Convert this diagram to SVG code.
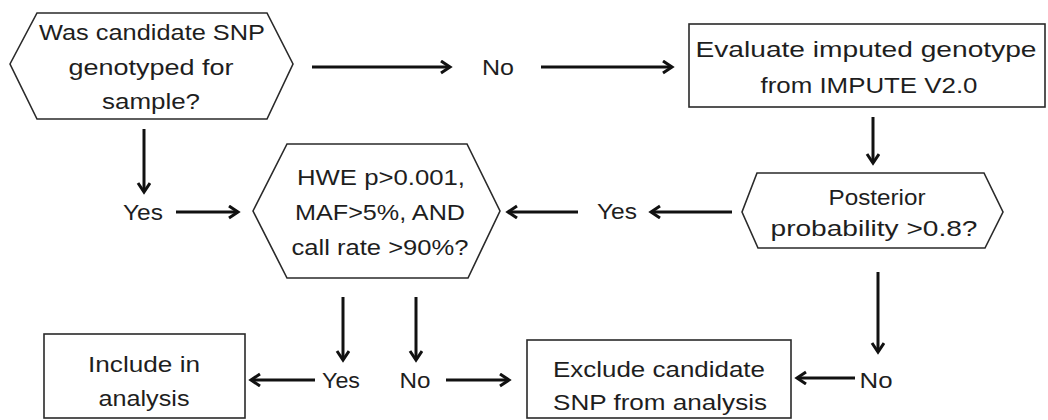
<svg xmlns="http://www.w3.org/2000/svg" width="1048" height="420" viewBox="0 0 1048 420">
  <style>
    .shape { fill: #ffffff; stroke: #2a2a2a; stroke-width: 1.6; }
    .t { font-family: "Liberation Sans", Arial, sans-serif; font-size: 22px; fill: #1e1e1e; text-anchor: middle; }
    .conn { stroke: #111111; stroke-width: 3; fill: none; }
  </style>
  <defs>
    <marker id="arr" markerUnits="userSpaceOnUse" markerWidth="16" markerHeight="16" refX="11" refY="7" orient="auto">
      <path d="M2,1 L11,7 L2,13" fill="none" stroke="#111111" stroke-width="3" stroke-linejoin="miter"/>
    </marker>
  </defs>
  <rect x="0" y="0" width="1048" height="420" fill="#ffffff"/>

  <g id="n-genotyped">
    <polygon class="shape" points="10,64 37,13 267,13 293,64 267,119 37,119"/>
    <text class="t" x="152" y="40" textLength="226" lengthAdjust="spacingAndGlyphs">Was candidate SNP</text>
    <text class="t" x="151" y="75" textLength="165" lengthAdjust="spacingAndGlyphs">genotyped for</text>
    <text class="t" x="151" y="109" textLength="98" lengthAdjust="spacingAndGlyphs">sample?</text>
  </g>

  <g id="n-evaluate">
    <rect class="shape" x="689" y="24" width="356" height="83"/>
    <text class="t" x="866" y="57" textLength="341" lengthAdjust="spacingAndGlyphs">Evaluate imputed genotype</text>
    <text class="t" x="869" y="93" textLength="217" lengthAdjust="spacingAndGlyphs">from IMPUTE V2.0</text>
  </g>

  <g id="n-posterior">
    <polygon class="shape" points="742,212 757,173 984,173 1003,212 985,248 758,248"/>
    <text class="t" x="877" y="205" textLength="97" lengthAdjust="spacingAndGlyphs">Posterior</text>
    <text class="t" x="874" y="236" textLength="207" lengthAdjust="spacingAndGlyphs">probability &gt;0.8?</text>
  </g>

  <g id="n-hwe">
    <polygon class="shape" points="253,211 287,144 467,144 500,211 468,278 287,278"/>
    <text class="t" x="381" y="185" textLength="168" lengthAdjust="spacingAndGlyphs">HWE p&gt;0.001,</text>
    <text class="t" x="380" y="220" textLength="170" lengthAdjust="spacingAndGlyphs">MAF&gt;5%, AND</text>
    <text class="t" x="380" y="255" textLength="177" lengthAdjust="spacingAndGlyphs">call rate &gt;90%?</text>
  </g>

  <g id="n-include">
    <rect class="shape" x="44" y="334" width="201" height="84"/>
    <text class="t" x="144" y="372" textLength="112" lengthAdjust="spacingAndGlyphs">Include in</text>
    <text class="t" x="144" y="406" textLength="91" lengthAdjust="spacingAndGlyphs">analysis</text>
  </g>

  <g id="n-exclude">
    <rect class="shape" x="527" y="340" width="264" height="78"/>
    <text class="t" x="659" y="377" textLength="212" lengthAdjust="spacingAndGlyphs">Exclude candidate</text>
    <text class="t" x="660" y="410" textLength="214" lengthAdjust="spacingAndGlyphs">SNP from analysis</text>
  </g>

  <g id="connectors">
    <line class="conn" x1="312" y1="67" x2="450" y2="67" marker-end="url(#arr)"/>
    <line class="conn" x1="541" y1="67" x2="672" y2="67" marker-end="url(#arr)"/>
    <line class="conn" x1="873" y1="117" x2="873" y2="163" marker-end="url(#arr)"/>
    <line class="conn" x1="732" y1="212" x2="651" y2="212" marker-end="url(#arr)"/>
    <line class="conn" x1="578" y1="212" x2="508" y2="212" marker-end="url(#arr)"/>
    <line class="conn" x1="144" y1="129" x2="144" y2="192" marker-end="url(#arr)"/>
    <line class="conn" x1="176" y1="212" x2="238" y2="212" marker-end="url(#arr)"/>
    <line class="conn" x1="343" y1="297" x2="343" y2="360" marker-end="url(#arr)"/>
    <line class="conn" x1="416" y1="297" x2="416" y2="360" marker-end="url(#arr)"/>
    <line class="conn" x1="315" y1="380" x2="251" y2="380" marker-end="url(#arr)"/>
    <line class="conn" x1="446" y1="380" x2="509" y2="380" marker-end="url(#arr)"/>
    <line class="conn" x1="878" y1="272" x2="878" y2="352" marker-end="url(#arr)"/>
    <line class="conn" x1="855" y1="378" x2="797" y2="378" marker-end="url(#arr)"/>
    <g id="labels">
      <text class="t" x="498" y="75" textLength="32" lengthAdjust="spacingAndGlyphs">No</text>
      <text class="t" x="143" y="220" textLength="40" lengthAdjust="spacingAndGlyphs">Yes</text>
      <text class="t" x="617" y="219" textLength="40" lengthAdjust="spacingAndGlyphs">Yes</text>
      <text class="t" x="341" y="388" textLength="38" lengthAdjust="spacingAndGlyphs">Yes</text>
      <text class="t" x="415" y="388" textLength="31" lengthAdjust="spacingAndGlyphs">No</text>
      <text class="t" x="876" y="388" textLength="33" lengthAdjust="spacingAndGlyphs">No</text>
    </g>
  </g>
</svg>
